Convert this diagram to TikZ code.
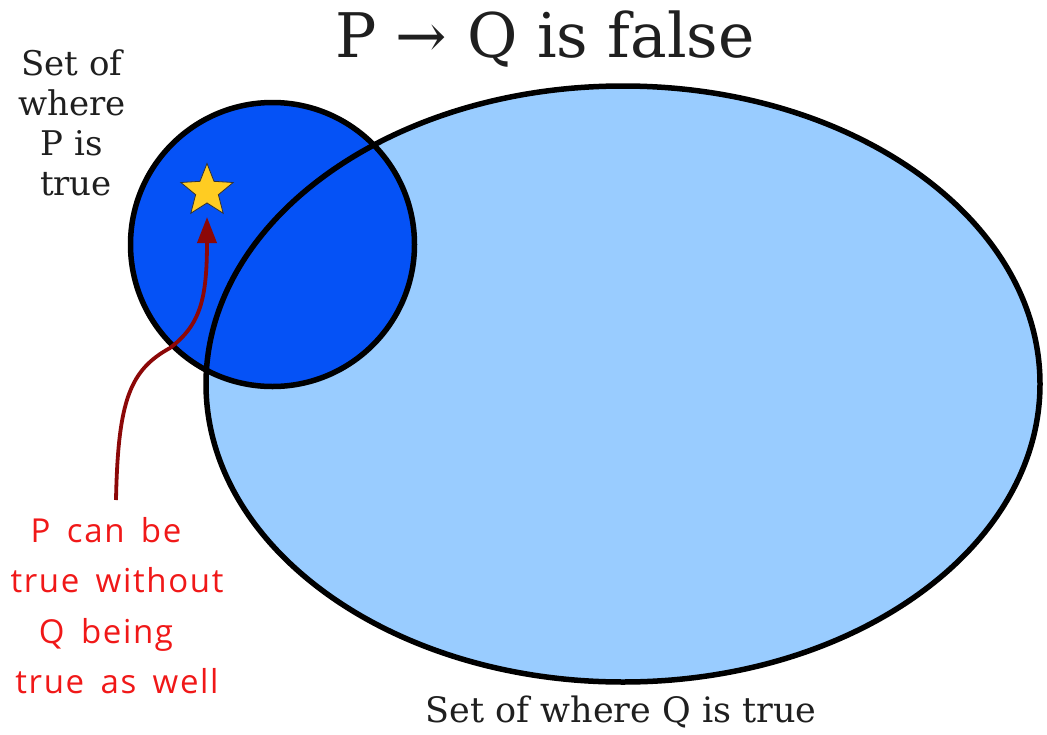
\documentclass[tikz,border=0pt]{standalone}
\usepackage{fontspec}
\setmainfont{DejaVu Serif}
\newfontfamily\handfont[LetterSpace=5,WordSpace=1.6]{Open Sans}
\usetikzlibrary{arrows.meta,shapes.geometric}
\definecolor{pblue}{RGB}{5,82,246}
\definecolor{qblue}{RGB}{153,204,255}
\definecolor{stargold}{RGB}{255,204,34}
\definecolor{arrowred}{RGB}{140,8,8}
\definecolor{notered}{RGB}{240,24,24}
\tikzset{
  setline/.style={draw=black,line width=5.5pt},
  serifl/.style={inner sep=0pt,anchor=base,font=\fontsize{34}{40}\selectfont,text=black!88},
  handl/.style={inner sep=0pt,anchor=base,font=\handfont\fontsize{33}{50}\selectfont,text=notered},
}
\begin{document}
\begin{tikzpicture}[x=1pt,y=-1pt]
\useasboundingbox (0,0) rectangle (1047,734);
% fills
\fill[qblue] (623,384) ellipse [x radius=417, y radius=298];
\fill[pblue] (272.5,244.5) circle [radius=142];
% outlines
\draw[setline] (272.5,244.5) circle [radius=142];
\draw[setline] (623,384) ellipse [x radius=417, y radius=298];
% star
\node[star,star points=5,star point ratio=2.3,minimum size=55pt,inner sep=0pt,
      fill=stargold,draw=black!80,line width=0.8pt] (star) at (207,191) {};
\coordinate (tip) at (207,217);
\coordinate (tail) at (116,500);
\draw[arrowred,line width=3.8pt,-{Triangle[length=26pt,width=19pt]}]
  (tail) .. controls (118,400) and (130,370) .. (170,348)
         .. controls (200,325) and (207,300) .. (tip);
% title
\node[inner sep=0pt,anchor=base,font=\fontsize{61.5}{70}\selectfont,text=black!88] (title) at (545,57) {P → Q is false};
% P label
\node[serifl] (p1) at (72,75) {Set of};
\node[serifl] (p2) at (72,115) {where};
\node[serifl] (p3) at (72,155) {P is};
\node[serifl] (p4) at (76,195) {true};
% Q label
\node[serifl,font=\fontsize{35}{40}\selectfont] (q1) at (621,722) {Set of where Q is true};
% note
\node[handl] (n1) at (106,542) {P can be};
\node[handl] (n2) at (117,592) {true without};
\node[handl] (n3) at (106,643) {Q being};
\node[handl] (n4) at (117,693) {true as well};
\end{tikzpicture}
\end{document}
